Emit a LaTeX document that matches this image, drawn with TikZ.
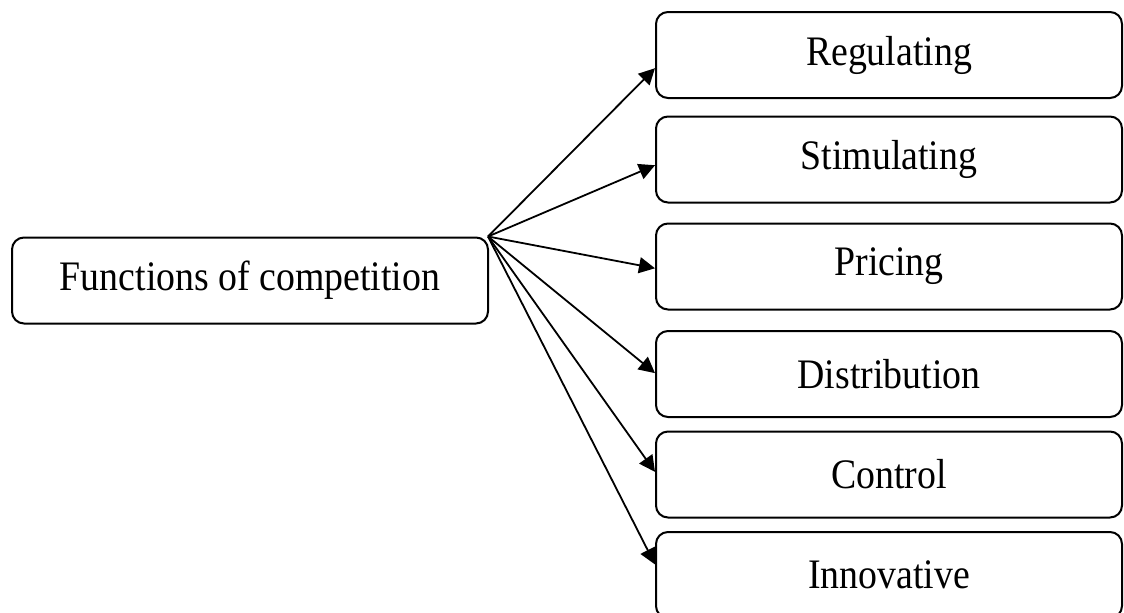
\documentclass[tikz,border=0pt]{standalone}
\usepackage{fontspec}
\setmainfont{Liberation Serif}
\usetikzlibrary{arrows.meta,calc}
\newcommand{\narrow}[1]{\scalebox{0.9}[1]{#1}}
\begin{document}
\begin{tikzpicture}[x=0.5pt,y=-0.5pt,
  fbox/.style={draw,line width=1pt,rounded corners=6pt,minimum width=233pt,minimum height=43pt,inner sep=0pt,font=\fontsize{21}{25}\selectfont},
  conn/.style={line width=0.9pt,-{Triangle[length=8pt,width=8pt]}}]
\useasboundingbox (0,0) rectangle (1124,612);
\clip (0,0) rectangle (1124,612);
\node[fbox,minimum width=238pt] (l) at (250,280.5) {\narrow{Functions of competition}};
\node[fbox] (r1) at (889,55) {\narrow{Regulating}};
\node[fbox] (r2) at (889,159.5) {\narrow{Stimulating}};
\node[fbox] (r3) at (889,266.5) {\narrow{Pricing}};
\node[fbox] (r4) at (889,374) {\narrow{Distribution}};
\node[fbox] (r5) at (889,474.5) {\narrow{Control}};
\node[fbox] (r6) at (889,575) {\narrow{Innovative}};
\coordinate (o) at ($(l.north east)+(-1,0)$);
\draw[conn] (o) -- ($(r1.south west)!0.35!(r1.north west)$);
\draw[conn] (o) -- ($(r2.south west)!0.435!(r2.north west)$);
\draw[conn] (o) -- ($(r3.south west)!0.48!(r3.north west)$);
\draw[conn] (o) -- ($(r4.south west)!0.51!(r4.north west)$);
\draw[conn] (o) -- ($(r5.south west)!0.53!(r5.north west)$);
\draw[conn] (o) -- ($(r6.south west)!0.62!(r6.north west)$);
\end{tikzpicture}
\end{document}
